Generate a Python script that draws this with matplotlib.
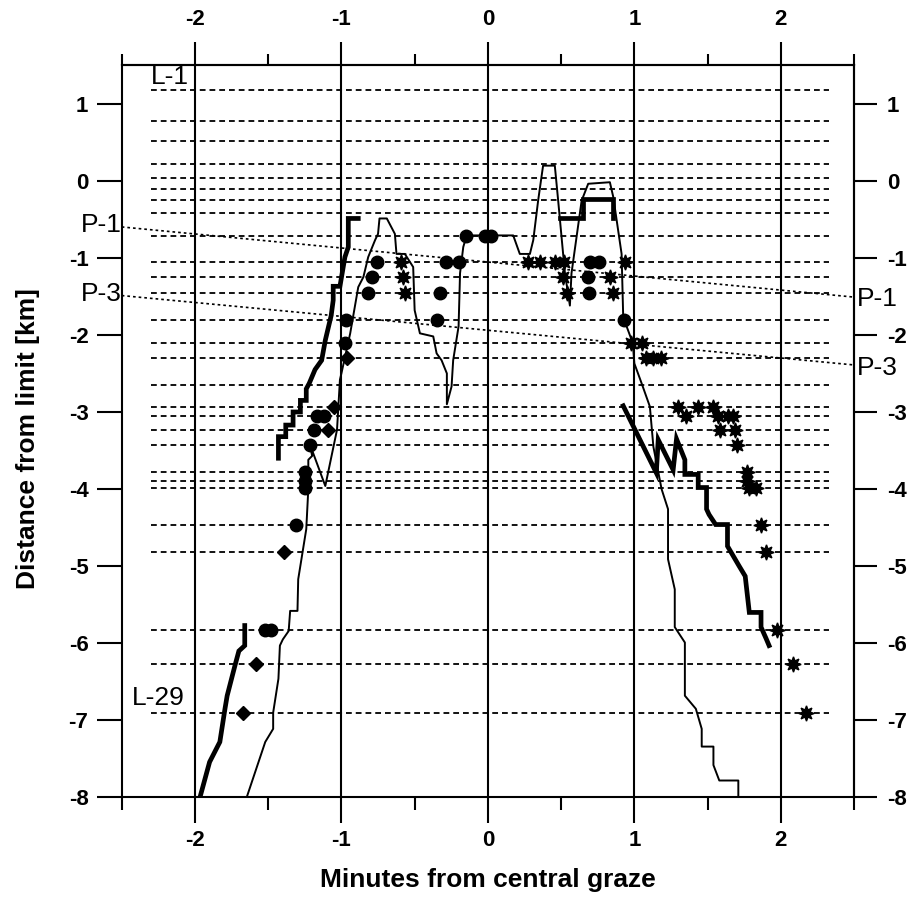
import matplotlib
matplotlib.use('Agg')
import matplotlib.pyplot as plt
import numpy as np

plt.rcParams['font.family'] = ['Liberation Sans', 'DejaVu Sans']
plt.rcParams['font.weight'] = 'bold'
plt.rcParams['axes.unicode_minus'] = False

# ---------------- data ----------------
chord_y = [1.17, 0.78, 0.52, 0.22, 0.04, -0.11, -0.25, -0.42, -0.72, -1.05,
           -1.25, -1.46, -1.81, -2.10, -2.30, -2.65, -2.93, -3.05, -3.24, -3.43,
           -3.78, -3.89, -3.98, -4.46, -4.82, -5.83, -6.27, -6.90]
chord_x0, chord_x1 = -2.30, 2.33

# thin profile line
thin_x = [-1.647, -1.52, -1.466, -1.466, -1.43, -1.42, -1.40, -1.36, -1.35, -1.30,
          -1.295, -1.24, -1.226, -1.226, -1.20, -1.215, -1.11, -1.03, -1.01, -1.0,
          -0.94, -0.885, -0.85, -0.817, -0.77, -0.75, -0.74, -0.69, -0.635, -0.624,
          -0.567, -0.51, -0.50, -0.464, -0.373, -0.35, -0.316, -0.28, -0.28, -0.248,
          -0.237, -0.20, -0.19, -0.168, -0.145, 0.173, 0.218, 0.287, 0.31, 0.343,
          0.377, 0.457, 0.48, 0.526, 0.56, 0.571, 0.64, 0.685, 0.833, 0.856,
          0.913, 0.924, 0.99, 1.0, 1.05, 1.106, 1.13, 1.186, 1.23, 1.23,
          1.276, 1.276, 1.345, 1.345, 1.42, 1.46, 1.46, 1.54, 1.54, 1.58,
          1.71, 1.71]
thin_y = [-8.0, -7.28, -7.11, -6.90, -6.46, -6.03, -5.95, -5.84, -5.58, -5.58,
          -5.17, -4.52, -4.0, -3.62, -3.57, -3.42, -3.96, -3.23, -2.58, -2.5,
          -1.98, -1.38, -1.25, -0.99, -0.77, -0.69, -0.49, -0.49, -0.69, -0.95,
          -0.95, -1.12, -1.68, -1.98, -2.02, -2.24, -2.33, -2.50, -2.90, -2.67,
          -2.33, -1.89, -1.20, -0.86, -0.71, -0.71, -0.95, -0.95, -0.77, -0.26,
          0.195, 0.195, -0.26, -1.20, -1.62, -1.20, -0.26, -0.04, -0.02, -0.21,
          -0.95, -1.77, -2.11, -2.37, -2.63, -2.93, -3.45, -4.0, -4.26, -4.91,
          -5.30, -5.79, -5.99, -6.68, -6.85, -7.11, -7.34, -7.34, -7.58, -7.78,
          -7.78, -8.0]

# thick profile line, four pieces
thick1_x = [-1.966, -1.90, -1.83, -1.795, -1.78, -1.727, -1.70, -1.66, -1.66]
thick1_y = [-8.0, -7.54, -7.28, -6.85, -6.68, -6.29, -6.10, -6.03, -5.77]
thick2_x = [-1.43, -1.43, -1.38, -1.38, -1.33, -1.33, -1.28, -1.28, -1.24, -1.24,
            -1.22, -1.18, -1.135, -1.11, -1.07, -1.056, -1.056, -1.01, -0.976,
            -0.953, -0.953, -0.885]
thick2_y = [-3.60, -3.32, -3.32, -3.17, -3.17, -3.00, -3.00, -2.85, -2.85, -2.70,
            -2.63, -2.45, -2.33, -2.07, -1.75, -1.55, -1.37, -1.37, -0.99,
            -0.86, -0.49, -0.49]
thick3_x = [0.49, 0.65, 0.65, 0.856, 0.856]
thick3_y = [-0.49, -0.49, -0.235, -0.235, -0.49]
thick4_x = [0.924, 1.15, 1.163, 1.265, 1.288, 1.345, 1.345, 1.436, 1.436, 1.493,
            1.493, 1.51, 1.555, 1.636, 1.636, 1.716, 1.757, 1.785, 1.865, 1.865,
            1.90, 1.92]
thick4_y = [-2.92, -3.79, -3.36, -3.75, -3.35, -3.62, -3.81, -3.81, -3.98, -3.98,
            -4.26, -4.33, -4.46, -4.46, -4.74, -5.00, -5.13, -5.60, -5.60, -5.79,
            -5.94, -6.03]

# observation markers
circ_x = [-1.52, -1.48, -1.31, -1.25, -1.25, -1.25, -1.215, -1.19, -1.17, -1.12,
          -0.97, -0.976, -0.76, -0.79, -0.817, -0.287, -0.20, -0.33, -0.346,
          -0.15, -0.02, 0.02, 0.70, 0.76, 0.685, 0.69, 0.93]
circ_y = [-5.83, -5.83, -4.46, -3.78, -3.89, -3.98, -3.43, -3.24, -3.05, -3.05,
          -1.81, -2.10, -1.05, -1.25, -1.46, -1.05, -1.05, -1.46, -1.81,
          -0.72, -0.72, -0.72, -1.05, -1.05, -1.25, -1.46, -1.81]
diam_x = [-1.67, -1.58, -1.39, -1.09, -1.05, -0.965]
diam_y = [-6.90, -6.27, -4.82, -3.24, -2.93, -2.30]
star_x = [-0.596, -0.578, -0.567, 0.275, 0.355, 0.457, 0.52, 0.514, 0.537, 0.833,
          0.856, 0.935, 0.98, 1.05, 1.083, 1.13, 1.185, 1.30, 1.356, 1.436,
          1.54, 1.572, 1.64, 1.674, 1.584, 1.686, 1.70, 1.766, 1.766, 1.78,
          1.834, 1.868, 1.90, 1.975, 2.08, 2.17]
star_y = [-1.05, -1.25, -1.46, -1.05, -1.05, -1.05, -1.05, -1.25, -1.46, -1.25,
          -1.46, -1.05, -2.10, -2.10, -2.30, -2.30, -2.30, -2.93, -3.05, -2.93,
          -2.93, -3.05, -3.05, -3.05, -3.24, -3.24, -3.43, -3.78, -3.89, -3.98,
          -3.98, -4.46, -4.82, -5.83, -6.27, -6.90]

# slanted reference lines P-1, P-3
p1_x, p1_y = [-2.5, 2.5], [-0.60, -1.51]
p3_x, p3_y = [-2.5, 2.5], [-1.49, -2.39]

x_major = [-2, -1, 0, 1, 2]
x_minor = [-2.5, -1.5, -0.5, 0.5, 1.5, 2.5]
y_major = [1, 0, -1, -2, -3, -4, -5, -6, -7, -8]

# ---------------- figure ----------------
fig = plt.figure(figsize=(9.2, 9.16), dpi=100)
ax = fig.add_axes([0.1323, 0.1294, 0.7960, 0.7996])
ax.set_xlim(-2.5, 2.5)
ax.set_ylim(-8, 1.5)

for s in ax.spines.values():
    s.set_linewidth(1.5)

# vertical lines
for xv in x_major:
    ax.axvline(xv, color='black', lw=1.5, zorder=2)

# chord lines
ax.hlines(chord_y, chord_x0, chord_x1, colors='black', lw=1.3,
          linestyles=(0, (3.2, 2.2)), zorder=1)

# slanted dotted lines
ax.plot(p1_x, p1_y, color='black', lw=1.2, ls=(0, (1.6, 1.8)), clip_on=False, zorder=2)
ax.plot(p3_x, p3_y, color='black', lw=1.2, ls=(0, (1.6, 1.8)), clip_on=False, zorder=2)

# profiles
ax.plot(thin_x, thin_y, color='black', lw=1.4, zorder=3)
for tx, ty in [(thick1_x, thick1_y), (thick2_x, thick2_y),
               (thick3_x, thick3_y), (thick4_x, thick4_y)]:
    ax.plot(tx, ty, color='black', lw=3.4, zorder=3, solid_joinstyle='miter')

# markers
ax.plot(circ_x, circ_y, 'o', color='black', ms=9.0, zorder=4)
ax.plot(diam_x, diam_y, 'D', color='black', ms=7.5, zorder=4)
ax.plot(star_x, star_y, marker=(8, 1, 0), ls='none', color='black', ms=11, zorder=4)

# text labels
tk = dict(fontsize=19, fontweight='normal', color='black')
ax.text(-2.30, 1.19, 'L-1', ha='left', va='bottom', **tk)
ax.text(-2.43, -6.86, 'L-29', ha='left', va='bottom', **tk)
ax.text(-2.50, -0.57, 'P-1', ha='right', va='center', clip_on=False, **tk)
ax.text(-2.50, -1.47, 'P-3', ha='right', va='center', clip_on=False, **tk)
ax.text(2.52, -1.54, 'P-1', ha='left', va='center', clip_on=False, **tk)
ax.text(2.52, -2.43, 'P-3', ha='left', va='center', clip_on=False, **tk)

# bottom / left ticks
ax.set_xticks(x_major)
ax.set_xticks(x_minor, minor=True)
ax.set_yticks(y_major)
ax.tick_params(axis='x', which='major', direction='out', length=18.5, width=1.5,
               pad=5, labelsize=16, top=False)
ax.tick_params(axis='x', which='minor', direction='out', length=9.5, width=1.5, top=False)
ax.tick_params(axis='y', which='major', direction='out', length=18, width=1.5,
               pad=6, labelsize=16, right=False)
ax.tick_params(axis='y', which='minor', left=False, right=False)

# top / right ticks
secx = ax.secondary_xaxis('top')
secx.set_xticks(x_major)
secx.set_xticks(x_minor, minor=True)
secx.tick_params(which='major', direction='out', length=16.5, width=1.5, pad=9, labelsize=16)
secx.tick_params(which='minor', direction='out', length=8, width=1.5)
secy = ax.secondary_yaxis('right')
secy.set_yticks(y_major)
secy.tick_params(which='major', direction='out', length=16.5, width=1.5, pad=7, labelsize=16)
secy.tick_params(which='minor', right=False)
for sa in (secx, secy):
    for s in sa.spines.values():
        s.set_linewidth(1.5)

ax.set_xlabel('Minutes from central graze', fontsize=19, fontweight='bold')
ax.set_ylabel('Distance from limit [km]', fontsize=19, fontweight='bold')
ax.xaxis.set_label_coords(0.5, -0.113)
ax.xaxis.label.set_va('center')
ax.yaxis.set_label_coords(-0.128, 0.49)
ax.yaxis.label.set_va('center')

fig.savefig('out.png', dpi=100)
